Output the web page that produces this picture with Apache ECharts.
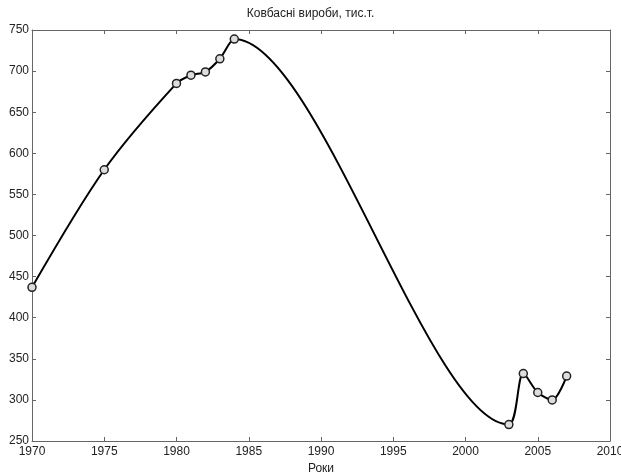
<!DOCTYPE html>
<html><head><meta charset="utf-8">
<script src="https://cdn.jsdelivr.net/npm/echarts@6/dist/echarts.min.js"></script>
<style>html,body{margin:0;padding:0;background:#fff}#c{width:621px;height:473px}</style>
</head><body><div id="c"></div>
<script>
const years = [1970, 1975, 1980, 1981, 1982, 1983, 1984, 2003, 2004, 2005, 2006, 2007];
const values = [437, 580, 685, 695, 699, 715, 739, 270, 332, 309, 300, 329];
const title = 'Ковбасні вироби, тис.т.';
const xName = 'Роки';

const chart = echarts.init(document.getElementById('c'));
const font = 'Liberation Sans, Arial, sans-serif';
const axCommon = {
  axisLine: {show: true, lineStyle: {color: '#666', width: 1}},
  axisTick: {show: true, inside: true, length: 4, lineStyle: {color: '#666'}},
  splitLine: {show: false}
};
chart.setOption({
  animation: false,
  title: {text: title, left: 'center', top: 3, textStyle: {fontFamily: font, fontSize: 12, fontWeight: 'normal', color: '#222'}},
  grid: {left: 32, right: 11, top: 30, bottom: 32, show: false, containLabel: false, outerBoundsMode: 'none'},
  xAxis: [
    Object.assign({type: 'value', min: 1970, max: 2010, interval: 5, name: xName, nameLocation: 'middle', nameGap: 15,
      nameTextStyle: {fontFamily: font, fontSize: 12, color: '#222'},
      axisLabel: {fontFamily: font, fontSize: 12, color: '#222', margin: 5, formatter: v => String(v)}}, axCommon),
    Object.assign({type: 'value', min: 1970, max: 2010, interval: 5, position: 'top', axisLabel: {show: false}}, axCommon)
  ],
  yAxis: [
    Object.assign({type: 'value', min: 250, max: 750, interval: 50,
      axisLabel: {fontFamily: font, fontSize: 12, color: '#222', margin: 3}}, axCommon),
    Object.assign({type: 'value', min: 250, max: 750, interval: 50, position: 'right', axisLabel: {show: false}}, axCommon)
  ],
  series: [{
    type: 'line',
    data: years.map((y, i) => [y, values[i]]),
    smooth: 0.3,
    lineStyle: {color: '#000', width: 2},
    symbol: 'circle', symbolSize: 8,
    itemStyle: {color: '#ddd', borderColor: '#222', borderWidth: 1.5}
  }]
});
</script></body></html>
